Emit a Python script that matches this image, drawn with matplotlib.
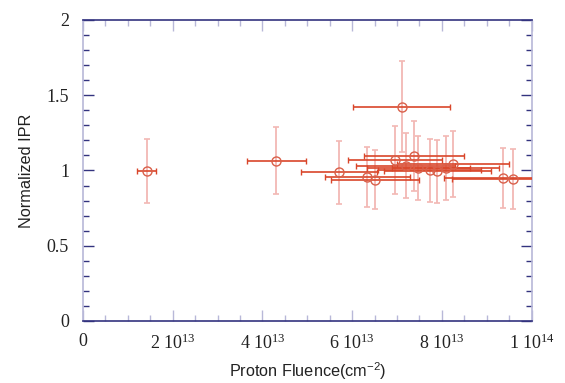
import matplotlib
matplotlib.use("Agg")
import matplotlib.pyplot as plt
from matplotlib.ticker import MultipleLocator, FuncFormatter

# Data (fluence in cm^-2, normalized IPR)
fluence = [1.42e13, 4.31e13, 5.71e13, 6.34e13, 6.51e13, 6.96e13, 7.19e13, 7.38e13,
           7.47e13, 7.73e13, 7.90e13, 8.08e13, 8.25e13, 9.35e13, 9.58e13, 7.10e13]
ipr = [0.997, 1.065, 0.988, 0.957, 0.939, 1.072, 1.030, 1.098,
       1.015, 1.001, 0.995, 1.015, 1.045, 0.950, 0.942, 1.425]
fluence_err = [2.1e12, 6.5e12, 8.5e12, 9.5e12, 9.8e12, 10.5e12, 11.0e12, 11.2e12,
               11.5e12, 11.5e12, 12.0e12, 12.0e12, 12.5e12, 13.0e12, 13.5e12, 10.8e12]
ipr_err = [0.21, 0.222, 0.208, 0.20, 0.196, 0.226, 0.216, 0.233,
           0.213, 0.209, 0.209, 0.212, 0.219, 0.199, 0.20, 0.30]

xticks = [0, 2e13, 4e13, 6e13, 8e13, 1e14]
yticks = [0, 0.5, 1, 1.5, 2]

RED = "#d9462a"
PINK = "#f2b8b4"
NAVY = "#33337f"
LAV = "#b8b8d8"

plt.rcParams['mathtext.fontset'] = 'custom'
plt.rcParams['mathtext.rm'] = 'Liberation Serif'
plt.rcParams['mathtext.default'] = 'regular'

fig = plt.figure(figsize=(5.65, 3.83), dpi=100)
ax = fig.add_axes([0.1469, 0.1619, 0.941 - 0.1469, 0.9478 - 0.1619])

# vertical error bars: pink lines with red caps
_, ycaps, ybars = ax.errorbar(fluence, ipr, yerr=ipr_err, fmt='none', ecolor=PINK,
                              elinewidth=1.3, capsize=2.3, capthick=1.2, zorder=2)
for c in ycaps:
    c.set_color(RED)
# horizontal error bars: red lines with pink caps
_, xcaps, xbars = ax.errorbar(fluence, ipr, xerr=fluence_err, fmt='none', ecolor=RED,
                              elinewidth=1.2, capsize=2.3, capthick=1.0, zorder=3)
for c in xcaps:
    c.set_color(PINK)
ax.plot(fluence, ipr, linestyle='none', marker='o', markersize=6.5,
        markerfacecolor='none', markeredgecolor="#d9604a", markeredgewidth=1.0, zorder=4)

ax.set_xlim(0, 1e14)
ax.set_ylim(0, 2)

ax.set_xticks(xticks)
ax.set_yticks(yticks)
ax.xaxis.set_minor_locator(MultipleLocator(5e12))
ax.yaxis.set_minor_locator(MultipleLocator(0.1))

def xfmt(v, pos):
    if abs(v) < 1:
        return "0"
    exp = 13 if v < 9.99e13 else 14
    m = v / 10 ** exp
    return "%d 10$^{%d}$" % (round(m), exp)

def yfmt(v, pos):
    return ("%g" % v)

ax.xaxis.set_major_formatter(FuncFormatter(xfmt))
ax.yaxis.set_major_formatter(FuncFormatter(yfmt))

ax.tick_params(axis='x', which='both', direction='in', top=True, bottom=True,
               color=LAV, width=1.0, pad=9)
ax.tick_params(axis='x', which='major', length=8)
ax.tick_params(axis='x', which='minor', length=4)
ax.tick_params(axis='y', which='both', direction='in', left=True, right=True,
               color=NAVY, width=1.0, pad=10)
ax.tick_params(axis='y', which='major', length=8)
ax.tick_params(axis='y', which='minor', length=4)

for lbl in ax.get_xticklabels() + ax.get_yticklabels():
    lbl.set_family('Liberation Serif')
    lbl.set_fontsize(13)
    lbl.set_color('#222222')

ax.spines['left'].set_color(LAV)
ax.spines['right'].set_color(LAV)
ax.spines['top'].set_color(NAVY)
ax.spines['bottom'].set_color(NAVY)
for s in ax.spines.values():
    s.set_linewidth(1.2)

ax.set_xlabel("Proton Fluence(cm$^{-2}$)", family='Liberation Sans', fontsize=11.7,
              color='#222222', labelpad=5)
ax.set_ylabel("Normalized IPR", family='Liberation Sans', fontsize=11.7,
              color='#222222', labelpad=9)
plt.rcParams['mathtext.rm'] = 'Liberation Sans'

fig.savefig("out.png", dpi=100)
